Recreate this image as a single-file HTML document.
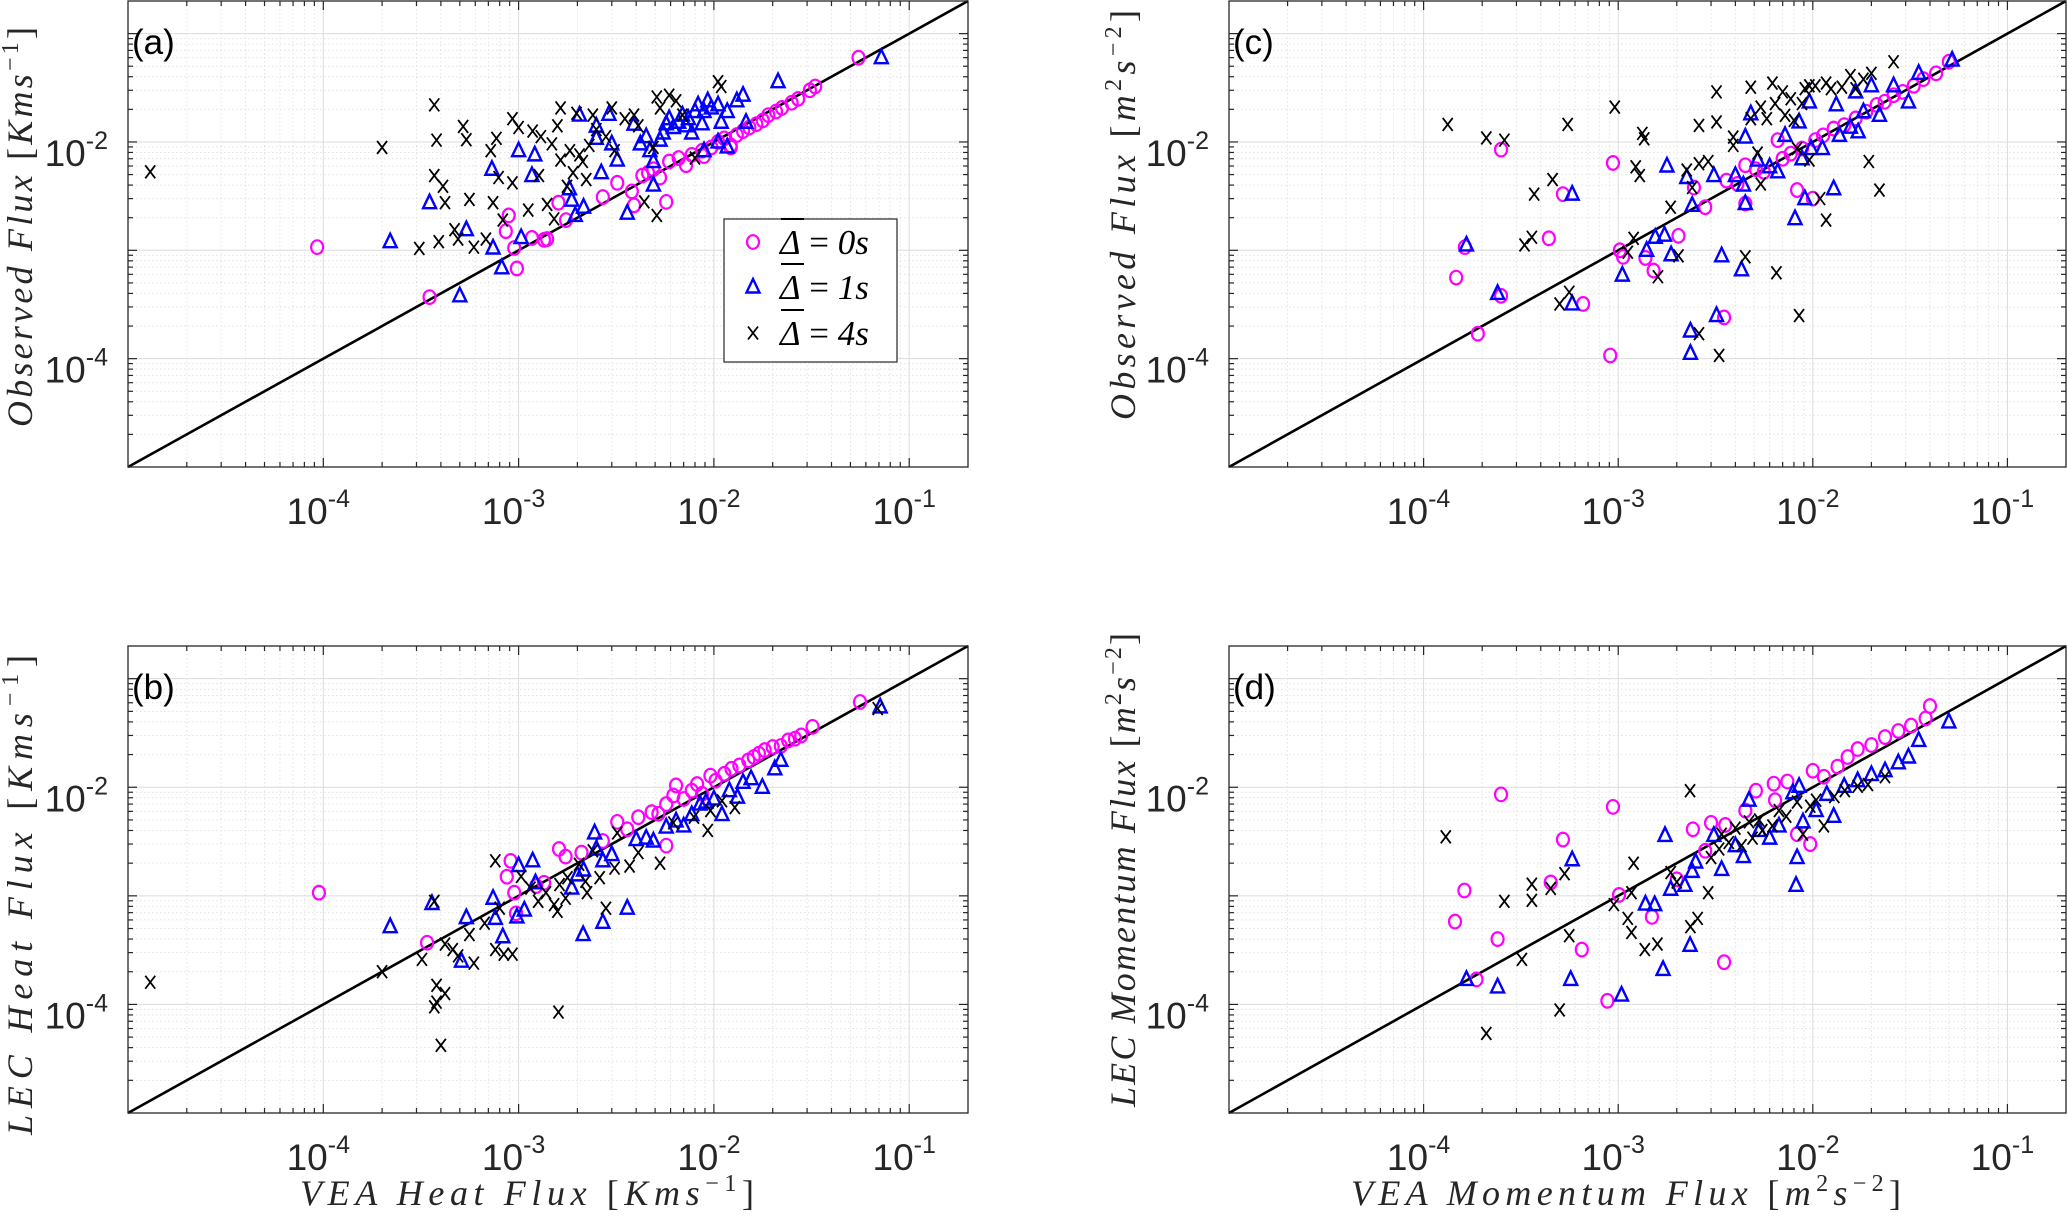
<!DOCTYPE html>
<html><head><meta charset="utf-8"><style>
html,body{margin:0;padding:0;background:#fff;}
svg{display:block;}
</style></head><body>
<svg id="fig" xmlns="http://www.w3.org/2000/svg" width="2067" height="1216" viewBox="0 0 2067 1216">
<rect x="0" y="0" width="2067" height="1216" fill="#fff"/>
</svg>
<script>
const decadeExps = [-5,-4,-3,-2,-1];
const tickExps = [-4,-3,-2,-1];
const yTickExps = [-4,-2];
const axisMin = 1e-5, axisMax = 0.2;

const aCircle = [[9.3e-5,1.07e-3],[3.5e-4,3.7e-4],[9.8e-4,6.8e-4],[9.5e-4,1.05e-3],[8.9e-4,2.1e-3],[8.6e-4,1.5e-3],[1.17e-3,1.3e-3],[1.35e-3,1.25e-3],[1.4e-3,1.27e-3],[1.6e-3,2.75e-3],[1.75e-3,1.9e-3],[2.7e-3,3.1e-3],[3.2e-3,4.2e-3],[3.8e-3,3.5e-3],[3.9e-3,2.6e-3],[4.3e-3,4.9e-3],[4.6e-3,5.2e-3],[4.9e-3,5.6e-3],[5.3e-3,4.7e-3],[5.7e-3,2.8e-3],[5.9e-3,6.6e-3],[6.6e-3,7.1e-3],[7.2e-3,6.1e-3],[7.7e-3,7.6e-3],[8.7e-3,8.3e-3],[8.9e-3,7.4e-3],[9.7e-3,8.9e-3],[1.05e-2,1e-2],[1.13e-2,1.08e-2],[1.22e-2,9.3e-3],[1.31e-2,1.16e-2],[1.41e-2,1.26e-2],[1.52e-2,1.36e-2],[1.65e-2,1.46e-2],[1.78e-2,1.58e-2],[1.9e-2,1.77e-2],[2.08e-2,1.91e-2],[2.23e-2,2.06e-2],[2.5e-2,2.3e-2],[2.7e-2,2.5e-2],[3.1e-2,3.0e-2],[3.3e-2,3.25e-2],[5.5e-2,6.0e-2],[1.22e-2,8.9e-3]];
const aTriangle = [[2.2e-4,1.2e-3],[3.5e-4,2.75e-3],[5.0e-4,3.8e-4],[5.4e-4,1.55e-3],[7.3e-4,5.6e-3],[7.4e-4,1.05e-3],[8.2e-4,6.9e-4],[1e-3,8.3e-3],[1.03e-3,1.31e-3],[1.17e-3,4.9e-3],[1.21e-3,7.6e-3],[1.82e-3,3.7e-3],[1.87e-3,2.9e-3],[1.95e-3,2.1e-3],[2.05e-3,1.77e-2],[2.15e-3,2.5e-3],[2.5e-3,1.4e-2],[2.5e-3,1.08e-2],[2.65e-3,5.2e-3],[2.9e-3,1.8e-2],[3.0e-3,9.6e-3],[3.2e-3,6.8e-3],[3.6e-3,2.2e-3],[3.9e-3,1.46e-2],[4.2e-3,9.6e-3],[4.5e-3,1.12e-2],[4.7e-3,8.3e-3],[4.9e-3,6.6e-3],[5.3e-3,1.04e-2],[5.5e-3,1.21e-2],[5.7e-3,1.47e-2],[5.9e-3,1.64e-2],[6.2e-3,1.36e-2],[6.6e-3,1.52e-2],[6.9e-3,1.77e-2],[7.2e-3,1.41e-2],[7.4e-3,1.64e-2],[7.7e-3,1.21e-2],[8.0e-3,1.91e-2],[8.3e-3,2.2e-2],[8.7e-3,1.47e-2],[8.9e-3,1.91e-2],[9.3e-3,2.4e-2],[9.7e-3,2.06e-2],[1.05e-2,2.2e-2],[1.09e-2,1.52e-2],[1.17e-2,1.91e-2],[1.31e-2,2.4e-2],[1.41e-2,2.7e-2],[1.46e-2,1.52e-2],[2.13e-2,3.6e-2],[7.2e-2,6.0e-2],[4.9e-3,4.0e-3],[8.9e-3,8.3e-3],[1.17e-2,9.0e-3],[1.05e-2,1.0e-2]];
const aCross = [[1.3e-5,5.3e-3],[2.0e-4,8.9e-3],[3.1e-4,1.04e-3],[3.7e-4,2.2e-2],[3.7e-4,4.9e-3],[3.8e-4,1.04e-2],[3.9e-4,1.2e-3],[4.1e-4,3.9e-3],[4.2e-4,2.75e-3],[4.7e-4,1.55e-3],[4.9e-4,1.27e-3],[5.2e-4,1.39e-2],[5.4e-4,1.05e-2],[5.6e-4,2.95e-3],[5.9e-4,1.07e-3],[6.8e-4,1.27e-3],[7.2e-4,8.3e-3],[7.4e-4,2.75e-3],[7.7e-4,1.08e-2],[7.9e-4,4.7e-3],[8.3e-4,1.9e-3],[9.3e-4,4.2e-3],[9.3e-4,1.64e-2],[1.0e-3,1.36e-2],[1.12e-3,2.35e-3],[1.18e-3,1.26e-2],[1.27e-3,4.9e-3],[1.3e-3,1.12e-2],[1.4e-3,2.65e-3],[1.48e-3,9.6e-3],[1.52e-3,1.95e-3],[1.58e-3,1.41e-2],[1.64e-3,6.8e-3],[1.64e-3,2.06e-2],[1.77e-3,3.9e-3],[1.83e-3,8.3e-3],[1.9e-3,5.2e-3],[1.98e-3,1.84e-2],[2.05e-3,7.6e-3],[2.13e-3,6.6e-3],[2.22e-3,4.5e-3],[2.3e-3,9.3e-3],[2.4e-3,1.77e-2],[2.5e-3,1.3e-2],[2.8e-3,1.12e-2],[3.0e-3,2.06e-2],[3.1e-3,8.3e-3],[3.5e-3,1.64e-2],[3.9e-3,1.77e-2],[4.1e-3,1.41e-2],[4.4e-3,2.8e-3],[5.1e-3,2.1e-3],[5.1e-3,2.6e-2],[5.3e-3,2.06e-2],[5.9e-3,2.7e-2],[6.4e-3,2.4e-2],[6.9e-3,1.77e-2],[8.0e-3,7.1e-3],[1.05e-2,3.6e-2],[1.09e-2,3.25e-2],[4.9e-3,8.9e-3]];

const bCircle = [[9.5e-5,1.07e-3],[3.4e-4,3.7e-4],[8.7e-4,1.5e-3],[9.1e-4,2.1e-3],[9.5e-4,1.07e-3],[9.7e-4,6.9e-4],[1.23e-3,1.23e-3],[1.35e-3,1.32e-3],[1.61e-3,2.7e-3],[1.74e-3,2.3e-3],[2.1e-3,2.5e-3],[2.7e-3,3.2e-3],[3.2e-3,4.8e-3],[3.6e-3,4.1e-3],[4.1e-3,5.3e-3],[4.8e-3,5.9e-3],[5.2e-3,5.7e-3],[5.7e-3,2.9e-3],[5.7e-3,7.0e-3],[6.2e-3,8.4e-3],[6.4e-3,1.04e-2],[7.0e-3,7.8e-3],[7.7e-3,9.3e-3],[8.2e-3,1.07e-2],[8.7e-3,8.7e-3],[9.6e-3,1.28e-2],[1.02e-2,1.15e-2],[1.13e-2,1.33e-2],[1.23e-2,1.48e-2],[1.35e-2,1.59e-2],[1.5e-2,1.77e-2],[1.6e-2,1.9e-2],[1.7e-2,2.04e-2],[1.82e-2,2.2e-2],[2.0e-2,2.35e-2],[2.2e-2,2.4e-2],[2.4e-2,2.7e-2],[2.6e-2,2.8e-2],[2.8e-2,3.0e-2],[3.2e-2,3.6e-2],[5.6e-2,6.1e-2]];
const bTriangle = [[2.2e-4,5.2e-4],[3.6e-4,8.5e-4],[5.1e-4,2.5e-4],[5.4e-4,6.3e-4],[7.4e-4,9.5e-4],[7.6e-4,6.2e-4],[8.3e-4,4.2e-4],[9.8e-4,6.4e-4],[1.0e-3,1.9e-3],[1.07e-3,7.4e-4],[1.18e-3,2.1e-3],[1.22e-3,1.32e-3],[1.87e-3,1.18e-3],[2.0e-3,1.56e-3],[2.15e-3,1.73e-3],[2.14e-3,4.4e-4],[2.45e-3,3.8e-3],[2.5e-3,2.7e-3],[2.7e-3,2.1e-3],[3.0e-3,2.4e-3],[2.7e-3,5.7e-4],[3.6e-3,7.7e-4],[4.0e-3,3.3e-3],[4.5e-3,3.4e-3],[4.9e-3,3.2e-3],[5.7e-3,4.3e-3],[6.4e-3,4.9e-3],[7.0e-3,4.4e-3],[7.7e-3,5.6e-3],[8.5e-3,7.0e-3],[9.1e-3,7.3e-3],[1.0e-2,7.8e-3],[1.1e-2,5.6e-3],[1.2e-2,9.3e-3],[1.32e-2,8.1e-3],[1.41e-2,1.11e-2],[1.55e-2,1.2e-2],[1.77e-2,1.0e-2],[2.05e-2,1.48e-2],[2.2e-2,1.77e-2],[7.1e-2,5.5e-2]];
const bCross = [[1.3e-5,1.6e-4],[2.0e-4,2.0e-4],[3.2e-4,2.6e-4],[3.7e-4,8.9e-4],[3.8e-4,1.5e-4],[4.2e-4,1.26e-4],[3.8e-4,1.05e-4],[3.7e-4,9.5e-5],[4.0e-4,4.2e-5],[4.2e-4,3.6e-4],[4.6e-4,3.2e-4],[4.9e-4,2.8e-4],[5.9e-4,2.4e-4],[5.6e-4,4.4e-4],[6.7e-4,5.6e-4],[7.6e-4,2.1e-3],[7.6e-4,3.2e-4],[8.4e-4,2.9e-4],[9.3e-4,2.9e-4],[8.0e-4,7.7e-4],[1.03e-3,1.51e-3],[1.15e-3,1.18e-3],[1.26e-3,8.9e-4],[1.38e-3,1.07e-3],[1.52e-3,8.3e-4],[1.58e-3,7.2e-4],[1.62e-3,1.27e-3],[1.74e-3,9.5e-4],[1.78e-3,1.47e-3],[2.04e-3,1.95e-3],[2.2e-3,1.36e-3],[2.24e-3,1.07e-3],[2.4e-3,2.6e-3],[2.6e-3,1.47e-3],[2.8e-3,7.7e-4],[3.1e-3,1.8e-3],[3.7e-3,1.88e-3],[4.1e-3,2.5e-3],[5.3e-3,2.0e-3],[6.2e-3,4.7e-3],[7.9e-3,5.3e-3],[9.3e-3,4.0e-3],[9.6e-3,6.1e-3],[1.1e-2,7.5e-3],[1.28e-2,6.5e-3],[6.9e-2,5.3e-2],[3.2e-3,3.8e-3],[1.6e-3,8.5e-5]];

const cCircle = [[1.47e-4,5.6e-4],[1.63e-4,1.07e-3],[1.9e-4,1.7e-4],[2.5e-4,3.8e-4],[2.5e-4,8.5e-3],[4.4e-4,1.29e-3],[5.2e-4,3.3e-3],[6.6e-4,3.2e-4],[9.1e-4,1.07e-4],[9.4e-4,6.4e-3],[1.02e-3,1.0e-3],[1.06e-3,8.7e-4],[1.38e-3,8.5e-4],[1.52e-3,6.5e-4],[2.04e-3,1.36e-3],[2.45e-3,3.8e-3],[2.8e-3,2.5e-3],[3.5e-3,2.4e-4],[3.6e-3,4.4e-3],[4.1e-3,4.1e-3],[4.5e-3,6.1e-3],[4.5e-3,2.7e-3],[5.1e-3,5.6e-3],[5.6e-3,5.3e-3],[6.6e-3,1.04e-2],[7.0e-3,7.0e-3],[7.7e-3,7.8e-3],[8.3e-3,3.6e-3],[8.8e-3,8.7e-3],[1.0e-2,3.0e-3],[1.03e-2,1.04e-2],[1.13e-2,1.15e-2],[1.28e-2,1.33e-2],[1.45e-2,1.43e-2],[1.66e-2,1.65e-2],[1.88e-2,1.9e-2],[2.13e-2,2.2e-2],[2.34e-2,2.35e-2],[2.6e-2,2.7e-2],[2.9e-2,2.9e-2],[3.3e-2,3.3e-2],[3.7e-2,3.8e-2],[4.3e-2,4.3e-2],[5.0e-2,5.5e-2]];
const cTriangle = [[1.66e-4,1.12e-3],[2.4e-4,4.0e-4],[5.8e-4,3.3e-3],[5.8e-4,3.2e-4],[1.05e-3,5.9e-4],[1.4e-3,1.0e-3],[1.55e-3,1.32e-3],[1.73e-3,1.38e-3],[1.78e-3,6.0e-3],[1.87e-3,9.1e-4],[2.25e-3,4.7e-3],[2.35e-3,1.8e-4],[2.35e-3,1.12e-4],[2.4e-3,2.6e-3],[3.1e-3,4.9e-3],[3.2e-3,2.5e-4],[3.4e-3,8.9e-4],[4.0e-3,4.9e-3],[4.3e-3,6.6e-4],[4.4e-3,4.0e-3],[4.5e-3,1.11e-2],[4.5e-3,2.7e-3],[4.8e-3,1.82e-2],[5.2e-3,6.8e-3],[6.0e-3,5.9e-3],[6.6e-3,5.3e-3],[7.2e-3,1.15e-2],[8.1e-3,1.96e-3],[8.5e-3,1.53e-2],[8.8e-3,7.0e-3],[9.1e-3,3.0e-3],[9.6e-3,2.34e-2],[9.8e-3,8.7e-3],[1.12e-2,8.7e-3],[1.28e-2,3.7e-3],[1.32e-2,2.2e-2],[1.37e-2,1.15e-2],[1.56e-2,1.37e-2],[1.66e-2,2.9e-2],[1.71e-2,1.24e-2],[1.82e-2,1.9e-2],[2.0e-2,3.3e-2],[2.2e-2,1.76e-2],[2.6e-2,3.3e-2],[3.1e-2,2.34e-2],[3.5e-2,4.3e-2],[5.2e-2,5.7e-2]];
const cCross = [[1.33e-4,1.45e-2],[2.1e-4,1.09e-2],[2.6e-4,1.04e-2],[3.3e-4,1.12e-3],[3.6e-4,1.32e-3],[3.7e-4,3.3e-3],[4.6e-4,4.5e-3],[5.0e-4,3.2e-4],[5.5e-4,1.45e-2],[5.6e-4,4.1e-4],[9.6e-4,2.1e-2],[1.12e-3,9.6e-4],[1.2e-3,1.29e-3],[1.23e-3,5.9e-3],[1.29e-3,4.9e-3],[1.33e-3,1.2e-2],[1.36e-3,1.07e-2],[1.6e-3,5.7e-4],[1.86e-3,2.5e-3],[2.04e-3,8.9e-4],[2.25e-3,5.5e-3],[2.4e-3,3.8e-3],[2.6e-3,1.42e-2],[2.6e-3,6.3e-3],[2.9e-3,6.6e-3],[2.6e-3,1.7e-4],[3.2e-3,1.53e-2],[3.2e-3,2.9e-2],[3.3e-3,1.07e-4],[3.9e-3,1.11e-2],[3.9e-3,9.3e-3],[4.5e-3,8.7e-4],[4.8e-3,3.2e-2],[4.8e-3,1.64e-2],[5.2e-3,7.9e-3],[5.4e-3,4.1e-3],[5.4e-3,2.1e-2],[5.8e-3,1.64e-2],[6.2e-3,3.5e-2],[6.4e-3,2.26e-2],[6.5e-3,6.2e-4],[7.0e-3,2.9e-2],[7.2e-3,1.76e-2],[7.7e-3,2.5e-2],[8.0e-3,1.58e-2],[8.5e-3,2.5e-4],[8.8e-3,2.26e-2],[9.1e-3,3.1e-2],[9.6e-3,3.3e-2],[9.6e-3,6.8e-3],[1.03e-2,3.3e-2],[1.09e-2,3.0e-3],[1.17e-2,3.5e-2],[1.17e-2,1.9e-3],[1.24e-2,3.1e-2],[1.41e-2,3.2e-2],[1.56e-2,4.1e-2],[1.66e-2,3.1e-2],[1.82e-2,3.8e-2],[1.94e-2,6.6e-3],[2.0e-2,4.3e-2],[2.2e-2,3.6e-3],[2.6e-2,5.5e-2],[8.3e-3,8.7e-3]];

const dCircle = [[1.45e-4,5.8e-4],[1.62e-4,1.12e-3],[1.87e-4,1.7e-4],[2.4e-4,4.0e-4],[2.5e-4,8.6e-3],[4.5e-4,1.33e-3],[5.2e-4,3.3e-3],[6.5e-4,3.2e-4],[8.8e-4,1.08e-4],[9.4e-4,6.6e-3],[1.01e-3,1.02e-3],[1.49e-3,6.4e-4],[2.0e-3,1.42e-3],[2.42e-3,4.1e-3],[3.0e-3,4.7e-3],[3.55e-3,4.5e-3],[2.8e-3,2.6e-3],[3.5e-3,2.45e-4],[4.5e-3,6.1e-3],[5.1e-3,9.3e-3],[6.3e-3,1.08e-2],[6.4e-3,7.6e-3],[7.4e-3,1.13e-2],[8.3e-3,3.7e-3],[9.7e-3,3.0e-3],[1.0e-2,1.42e-2],[1.14e-2,1.25e-2],[1.34e-2,1.55e-2],[1.51e-2,1.9e-2],[1.7e-2,2.25e-2],[2.0e-2,2.45e-2],[2.35e-2,2.9e-2],[2.75e-2,3.3e-2],[3.2e-2,3.7e-2],[3.8e-2,4.3e-2],[4.0e-2,5.6e-2]];
const dTriangle = [[1.66e-4,1.7e-4],[2.4e-4,1.45e-4],[5.7e-4,1.7e-4],[5.8e-4,2.15e-3],[1.04e-3,1.22e-4],[1.38e-3,8.4e-4],[1.54e-3,8.3e-4],[1.7e-3,2.1e-4],[1.74e-3,3.6e-3],[1.86e-3,1.15e-3],[2.2e-3,1.25e-3],[2.34e-3,3.5e-4],[2.4e-3,1.68e-3],[2.5e-3,2.05e-3],[3.1e-3,3.6e-3],[3.4e-3,1.75e-3],[4.0e-3,2.9e-3],[4.4e-3,2.3e-3],[4.7e-3,7.6e-3],[5.3e-3,4.0e-3],[6.0e-3,3.4e-3],[6.7e-3,4.4e-3],[7.9e-3,8.9e-3],[8.3e-3,2.25e-3],[8.2e-3,1.25e-3],[8.9e-3,4.8e-3],[1.04e-2,6.1e-3],[1.18e-2,8.6e-3],[1.28e-2,5.4e-3],[1.45e-2,1.02e-2],[1.7e-2,1.15e-2],[2.0e-2,1.31e-2],[2.35e-2,1.42e-2],[2.75e-2,1.68e-2],[3.1e-2,1.9e-2],[3.5e-2,2.7e-2],[5.0e-2,4.0e-2],[8.5e-3,1.02e-2]];
const dCross = [[1.3e-4,3.5e-3],[2.1e-4,5.4e-5],[2.6e-4,8.9e-4],[3.2e-4,2.6e-4],[3.6e-4,1.28e-3],[3.6e-4,9.1e-4],[4.5e-4,1.17e-3],[5.0e-4,8.9e-5],[5.3e-4,1.6e-3],[5.6e-4,4.3e-4],[9.5e-4,8.3e-4],[1.12e-3,6.2e-4],[1.17e-3,4.6e-4],[1.17e-3,1.07e-3],[1.2e-3,2.0e-3],[1.37e-3,3.2e-4],[1.59e-3,3.6e-4],[1.86e-3,1.64e-3],[2.0e-3,1.34e-3],[2.34e-3,9.3e-3],[2.35e-3,5.2e-4],[2.56e-3,6.2e-4],[2.9e-3,1.07e-3],[3.0e-3,2.25e-3],[3.3e-3,2.7e-3],[3.4e-3,3.7e-3],[3.7e-3,3.1e-3],[4.0e-3,4.2e-3],[4.3e-3,2.9e-3],[4.7e-3,4.8e-3],[4.9e-3,3.4e-3],[5.3e-3,5.0e-3],[5.5e-3,4.0e-3],[6.2e-3,4.4e-3],[6.7e-3,6.1e-3],[7.3e-3,5.4e-3],[8.3e-3,7.3e-3],[8.9e-3,3.7e-3],[9.7e-3,6.7e-3],[1.04e-2,7.6e-3],[1.14e-2,4.4e-3],[1.29e-2,8.2e-3],[1.46e-2,9.3e-3],[1.7e-2,1.02e-2],[1.92e-2,1.06e-2],[2.35e-2,1.25e-2]];

const legendLabels = ["0s","1s","4s"];

const NS = "http://www.w3.org/2000/svg";
const svg = document.getElementById('fig');
function mk(tag, attrs, parent){ const e=document.createElementNS(NS,tag); for(const k in attrs) e.setAttribute(k,attrs[k]); (parent||svg).appendChild(e); return e; }

const panels = [
  {id:'a', L:128, T:1, W:840, H:466, circ:aCircle, tri:aTriangle, cross:aCross, yl:['Observed Flux ','Kms','−1'], ylx:32, yly:227, yllen:400, xl:null},
  {id:'b', L:128, T:646, W:840, H:467, circ:bCircle, tri:bTriangle, cross:bCross, yl:['LEC Heat Flux ','Kms','−1'], ylx:32, yly:895, yllen:480, xl:['VEA Heat Flux ','Kms','−1'], xlx:527, xllen:454},
  {id:'c', L:1229, T:1, W:837, H:466, circ:cCircle, tri:cTriangle, cross:cCross, yl:['Observed Flux ','m','2','s','−2'], ylx:1135, yly:215, yllen:410, xl:null},
  {id:'d', L:1229, T:646, W:837, H:467, circ:dCircle, tri:dTriangle, cross:dCross, yl:['LEC Momentum Flux ','m','2','s','−2'], ylx:1135, yly:870, yllen:474, xl:['VEA Momentum Flux ','m','2','s','−2'], xlx:1626, xllen:550}
];

const lmin=Math.log10(axisMin), lmax=Math.log10(axisMax);

function labelText(parts, attrs, parent){
  const t = mk('text', attrs, parent);
  const s1 = mk('tspan', {'font-style':'italic'}, t); s1.textContent = parts[0];
  const b1 = mk('tspan', {'font-style':'normal'}, t); b1.textContent = '[';
  if(parts.length===3){
    const u = mk('tspan', {'font-style':'italic'}, t); u.textContent = parts[1];
    const sp = mk('tspan', {'font-size':'24', dy:'-14'}, t); sp.textContent = parts[2];
    const b2 = mk('tspan', {'font-style':'normal', dy:'14'}, t); b2.textContent = ']';
  } else {
    const u = mk('tspan', {'font-style':'italic'}, t); u.textContent = parts[1];
    const sp = mk('tspan', {'font-size':'24', dy:'-14'}, t); sp.textContent = parts[2];
    const u2 = mk('tspan', {'font-style':'italic', dy:'14'}, t); u2.textContent = parts[3];
    const sp2 = mk('tspan', {'font-size':'24', dy:'-14'}, t); sp2.textContent = parts[4];
    const b2 = mk('tspan', {'font-style':'normal', dy:'14'}, t); b2.textContent = ']';
  }
  return t;
}

panels.forEach(p=>{
  const sx = v => p.L + (Math.log10(v)-lmin)/(lmax-lmin)*p.W;
  const sy = v => p.T + p.H - (Math.log10(v)-lmin)/(lmax-lmin)*p.H;
  const g = mk('g', {});
  
  

  const grid = mk('g', {}, g);
  
  
  const ticks = mk('g', {stroke:'#262626','stroke-width':'1.2'}, g);
  
  

  decadeExps.forEach(e=>{
    for(let k=1;k<=9;k++){
      const v = k*Math.pow(10,e);
      if(v<axisMin || v>axisMax) continue;
      const X = sx(v), Y = sy(v);
      const major = (k===1);
      if(X>p.L+1 && X<p.L+p.W-1){
        mk('line',{x1:X,y1:p.T,x2:X,y2:p.T+p.H,stroke: major?'#dcdcdc':'#e3e3e3','stroke-width':1,'stroke-dasharray':major?'none':'1.5,2.5'},grid);
        const tl = major?9:5;
        mk('line',{x1:X,y1:p.T+p.H,x2:X,y2:p.T+p.H-tl},ticks);
        mk('line',{x1:X,y1:p.T,x2:X,y2:p.T+tl},ticks);
      }
      if(Y>p.T+1 && Y<p.T+p.H-1){
        mk('line',{x1:p.L,y1:Y,x2:p.L+p.W,y2:Y,stroke: major?'#dcdcdc':'#e3e3e3','stroke-width':1,'stroke-dasharray':major?'none':'1.5,2.5'},grid);
        const tl = major?9:5;
        mk('line',{x1:p.L,y1:Y,x2:p.L+tl,y2:Y},ticks);
        mk('line',{x1:p.L+p.W,y1:Y,x2:p.L+p.W-tl,y2:Y},ticks);
      }
    }
  });

  tickExps.forEach(e=>{
    const t = mk('text',{x:sx(Math.pow(10,e))-5,y:p.T+p.H+57,'font-family':'Liberation Sans, sans-serif','font-size':'37','text-anchor':'middle',fill:'#262626'},g);
    
    
    const a = mk('tspan',{},t); a.textContent='10';
    const b = mk('tspan',{'font-size':'25',dy:'-17'},t); b.textContent=String(e);
  });
  yTickExps.forEach(e=>{
    const t = mk('text',{x:p.L-20,y:sy(Math.pow(10,e))+24,'font-family':'Liberation Sans, sans-serif','font-size':'37','text-anchor':'end',fill:'#262626'},g);
    
    
    const a = mk('tspan',{},t); a.textContent='10';
    const b = mk('tspan',{'font-size':'25',dy:'-17'},t); b.textContent=String(e);
  });

  const dl = mk('line',{x1:sx(axisMin),y1:sy(axisMin),x2:sx(axisMax),y2:sy(axisMax),stroke:'#000','stroke-width':'2.6'},g);
  
  

  const cg = mk('g',{fill:'none',stroke:'#ff00ff','stroke-width':'2.2'},g);
  
  
  p.circ.forEach(d=>{
    const c = mk('ellipse',{cx:sx(d[0]),cy:sy(d[1]),rx:6,ry:6.8},cg);
    
    
  });
  const tg = mk('g',{fill:'none',stroke:'#0000ff','stroke-width':'2.4','stroke-linejoin':'miter'},g);
  
  
  p.tri.forEach(d=>{
    const X=sx(d[0]), Y=sy(d[1]);
    const pg = mk('polygon',{points:`${X},${Y-8} ${X-6.5},${Y+5.5} ${X+6.5},${Y+5.5}`},tg);
    
    
  });
  const xg = mk('g',{stroke:'#000','stroke-width':'1.8'},g);
  
  
  p.cross.forEach(d=>{
    const X=sx(d[0]), Y=sy(d[1]);
    const pth = mk('path',{d:`M${X-5},${Y-6.5}L${X+5},${Y+6.5}M${X+5},${Y-6.5}L${X-5},${Y+6.5}`},xg);
    
    
  });

  const box = mk('rect',{x:p.L,y:p.T,width:p.W,height:p.H,fill:'none',stroke:'#262626','stroke-width':'1.3'},g);
  
  

  const pl = mk('text',{x:p.L+4,y:p.T+53,'font-family':'Liberation Sans, sans-serif','font-size':'35',fill:'#000'},g);
  
  
  pl.textContent='('+p.id+')';

  const yl = labelText(p.yl,{x:0,y:0,transform:`translate(${p.ylx},${p.yly}) rotate(-90)`,'text-anchor':'middle','font-family':'Liberation Serif, serif','font-size':'36',fill:'#262626',textLength:p.yllen,lengthAdjust:'spacing'},g);
  
  
  if(p.xl){
    const xl = labelText(p.xl,{x:p.xlx,y:1205,'text-anchor':'middle','font-family':'Liberation Serif, serif','font-size':'36',fill:'#262626',textLength:p.xllen,lengthAdjust:'spacing'},g);
    
    
  }
});

const lg = mk('g',{});


mk('rect',{x:724,y:219,width:173,height:143,fill:'#fff',stroke:'#262626','stroke-width':'1.2'},lg);
const legY = [246,291,337];
legendLabels.forEach((lab,i)=>{
  const y = legY[i];
  const e = mk('g',{},lg);
  
  
  if(i===0) mk('ellipse',{cx:753,cy:y-4,rx:6,ry:6.8,fill:'none',stroke:'#ff00ff','stroke-width':2.2},e);
  if(i===1) mk('polygon',{points:`753,${y-12} 746.5,${y+1.5} 759.5,${y+1.5}`,fill:'none',stroke:'#0000ff','stroke-width':2.4},e);
  if(i===2) mk('path',{d:`M748,${y-10.5}L758,${y+2.5}M758,${y-10.5}L748,${y+2.5}`,stroke:'#000','stroke-width':1.8},e);
  mk('line',{x1:781,y1:y-27,x2:804,y2:y-27,stroke:'#000','stroke-width':2},e);
  const t = mk('text',{x:780,y:y+8,'font-family':'Liberation Serif, serif','font-size':'35',fill:'#000'},e);
  const d1 = mk('tspan',{'font-style':'italic'},t); d1.textContent='Δ';
  const d2 = mk('tspan',{},t); d2.textContent=' = ';
  const d3 = mk('tspan',{'font-style':'italic'},t); d3.textContent=lab;
});
</script>
</body></html>
